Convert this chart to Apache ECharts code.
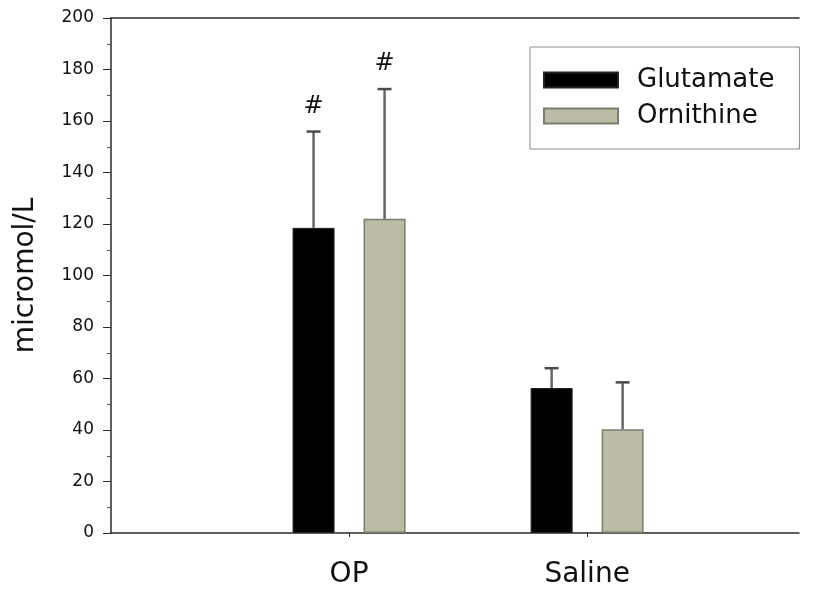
<!DOCTYPE html>
<html>
<head>
<meta charset="utf-8">
<script src="https://cdn.jsdelivr.net/npm/echarts@6/dist/echarts.min.js"></script>
<style>
  html, body { margin: 0; padding: 0; background: #ffffff; }
  #chart { width: 816px; height: 589px; }
</style>
</head>
<body>
<div id="chart"></div>
<script>
// Group names and their positions along the x axis
const groups = ['OP', 'Saline'];
const groupPos = [1, 2];

// Mean concentrations (micromol/L) and standard deviations
const glutamate = [118.5, 56.3];
const glutamateSD = [37.4, 7.7];
const ornithine = [122.0, 40.3];
const ornithineSD = [50.4, 18.2];

// Significance marks placed above the error bars
const glutamateMark = ['#', ''];
const ornithineMark = ['#', ''];

const FONT = '"DejaVu Sans", "Liberation Sans", Arial, sans-serif';
const BAR_W = 42;
const BAR_GAP_PX = 29;
const HALF_STEP = (BAR_W + BAR_GAP_PX) / 2;
const AXIS_COLOR = '#2a2a2a';

function errorSeries(name, means, sds, marks, offset) {
  return {
    type: 'custom',
    name: name + ' SD',
    xAxisIndex: 0,
    yAxisIndex: 0,
    z: 3,
    silent: true,
    data: groupPos.map((x, i) => [x, means[i], means[i] + sds[i]]),
    renderItem(params, api) {
      const x = api.value(0);
      const base = api.coord([x, api.value(1)]);
      const top = api.coord([x, api.value(2)]);
      const cx = base[0] + offset;
      const children = [
        { type: 'line', shape: { x1: cx, y1: base[1], x2: cx, y2: top[1] },
          style: { stroke: '#666666', lineWidth: 2.5 } },
        { type: 'line', shape: { x1: cx - 7, y1: top[1], x2: cx + 7, y2: top[1] },
          style: { stroke: '#4a4a4a', lineWidth: 2.5 } }
      ];
      const mark = marks[params.dataIndex];
      if (mark) {
        children.push({
          type: 'text',
          style: { text: mark, x: cx, y: top[1] - 25, align: 'center', verticalAlign: 'middle',
                   font: '24px ' + FONT, fill: '#111111' }
        });
      }
      return { type: 'group', children };
    }
  };
}

const chart = echarts.init(document.getElementById('chart'), null, { renderer: 'canvas' });

chart.setOption({
  animation: false,
  backgroundColor: '#ffffff',
  grid: { left: 111, right: 17, top: 18, bottom: 55, containLabel: false },
  legend: {
    data: ['Glutamate', 'Ornithine'],
    orient: 'vertical',
    left: 530,
    top: 47,
    padding: [20, 25, 20, 13],
    itemGap: 10,
    itemWidth: 74,
    itemHeight: 15,
    icon: 'rect',
    borderColor: '#8c8c8c',
    borderWidth: 1,
    backgroundColor: '#ffffff',
    textStyle: { fontFamily: FONT, fontSize: 26, color: '#111111', padding: [0, 0, 0, 14] }
  },
  xAxis: [
    {
      type: 'value',
      min: 0,
      max: 2.89,
      interval: 1,
      axisLine: { show: true, onZero: false, lineStyle: { color: AXIS_COLOR, width: 1.5 } },
      axisTick: { show: true, customValues: groupPos, length: 4, lineStyle: { color: AXIS_COLOR } },
      axisLabel: {
        customValues: groupPos,
        formatter: v => { const i = groupPos.indexOf(v); return i >= 0 ? groups[i] : ''; },
        fontFamily: FONT, fontSize: 28, color: '#111111', margin: 28
      },
      splitLine: { show: false }
    },
    {
      type: 'value',
      position: 'top',
      min: 0,
      max: 2.89,
      axisLine: { show: true, onZero: false, lineStyle: { color: AXIS_COLOR, width: 1.5 } },
      axisTick: { show: false },
      axisLabel: { show: false },
      splitLine: { show: false }
    }
  ],
  yAxis: {
    type: 'value',
    min: 0,
    max: 200,
    interval: 20,
    name: 'micromol/L',
    nameLocation: 'middle',
    nameGap: 71,
    nameTextStyle: { fontFamily: FONT, fontSize: 28, color: '#111111' },
    axisLine: { show: true, onZero: false, lineStyle: { color: AXIS_COLOR, width: 1.5 } },
    axisTick: { show: true, length: 8, lineStyle: { color: AXIS_COLOR } },
    minorTick: { show: true, splitNumber: 2, length: 4, lineStyle: { color: '#555555' } },
    axisLabel: { fontFamily: FONT, fontSize: 17, color: '#111111', margin: 17 },
    splitLine: { show: false }
  },
  series: [
    {
      name: 'Glutamate',
      type: 'bar',
      barWidth: BAR_W,
      barGap: (BAR_GAP_PX / BAR_W * 100) + '%',
      data: groupPos.map((x, i) => [x, glutamate[i]]),
      itemStyle: { color: '#000000', borderColor: '#222222', borderWidth: 1 }
    },
    {
      name: 'Ornithine',
      type: 'bar',
      barWidth: BAR_W,
      data: groupPos.map((x, i) => [x, ornithine[i]]),
      itemStyle: { color: '#bbbba8', borderColor: '#7d7d6d', borderWidth: 1.5 }
    },
    errorSeries('Glutamate', glutamate, glutamateSD, glutamateMark, -HALF_STEP),
    errorSeries('Ornithine', ornithine, ornithineSD, ornithineMark, HALF_STEP)
  ]
});
</script>
</body>
</html>
